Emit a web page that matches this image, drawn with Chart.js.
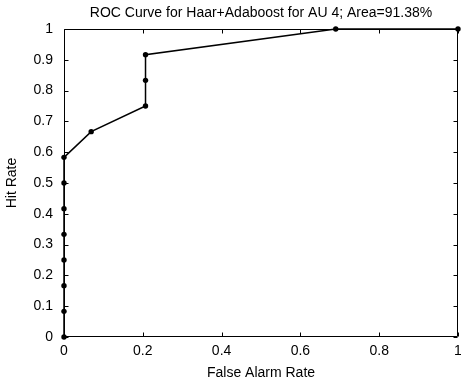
<!DOCTYPE html>
<html>
<head>
<meta charset="utf-8">
<script src="https://cdn.jsdelivr.net/npm/chart.js@4/dist/chart.umd.min.js"></script>
<style>
  html, body { margin: 0; padding: 0; background: #ffffff; }
  #wrap { width: 461px; height: 387px; }
</style>
</head>
<body>
<div id="wrap"><canvas id="roc" width="461" height="387"></canvas></div>
<script>
// ROC operating points (12 positives, 29 negatives)
const falseAlarmRate = [0, 0, 0, 0, 0, 0, 0, 0, 0.0690, 0.2069, 0.2069, 0.2069, 0.6897, 1];
const hitRate = [0, 0.0833, 0.1667, 0.25, 0.3333, 0.4167, 0.5, 0.5833, 0.6667, 0.75, 0.8333, 0.9167, 1, 1];
const xTicks = [0, 0.2, 0.4, 0.6, 0.8, 1];
const yTicks = [0, 0.1, 0.2, 0.3, 0.4, 0.5, 0.6, 0.7, 0.8, 0.9, 1];

const chartTitle = 'ROC Curve for Haar+Adaboost for AU 4; Area=91.38%';
const xTitle = 'False Alarm Rate';
const yTitle = 'Hit Rate';

const FONT = '"Liberation Sans", Arial, Helvetica, sans-serif';

const points = falseAlarmRate.map((x, i) => ({ x: x, y: hitRate[i] }));

// Plain tick text: 0, 0.1, ..., 1
const fmt = v => String(+Number(v).toFixed(4));

// Box around the axes with inward tick marks on all four sides
const boxTicks = {
  id: 'boxTicks',
  beforeDatasetsDraw(chart) {
    const { ctx, chartArea: a, scales } = chart;
    const L = Math.round(a.left) + 0.5, R = Math.round(a.right) - 0.5;
    const T = Math.round(a.top) + 0.5, B = Math.round(a.bottom) - 0.5;
    const len = 4;
    ctx.save();
    ctx.strokeStyle = '#000';
    ctx.lineWidth = 1;
    ctx.beginPath();
    ctx.rect(L, T, R - L, B - T);
    xTicks.forEach(v => {
      const px = Math.round(scales.x.getPixelForValue(v)) + 0.5;
      ctx.moveTo(px, B); ctx.lineTo(px, B - len);
      ctx.moveTo(px, T); ctx.lineTo(px, T + len);
    });
    yTicks.forEach(v => {
      const py = Math.round(scales.y.getPixelForValue(v)) + 0.5;
      ctx.moveTo(L, py); ctx.lineTo(L + len, py);
      ctx.moveTo(R, py); ctx.lineTo(R - len, py);
    });
    ctx.stroke();
    ctx.restore();
  }
};

new Chart(document.getElementById('roc'), {
  type: 'scatter',
  data: {
    datasets: [{
      data: points,
      showLine: true,
      borderColor: '#000',
      borderWidth: 1.5,
      pointRadius: 2.7,
      pointBackgroundColor: '#000',
      pointBorderColor: '#000',
      pointBorderWidth: 0,
      pointHoverRadius: 2.7,
      clip: false
    }]
  },
  options: {
    responsive: false,
    animation: false,
    devicePixelRatio: 1,
    layout: { padding: { left: 0, right: 3, top: 0, bottom: 0 } },
    plugins: {
      legend: { display: false },
      tooltip: { enabled: false },
      title: { display: false }
    },
    scales: {
      x: {
        type: 'linear',
        position: 'bottom',
        min: 0, max: 1,
        afterBuildTicks(scale) { scale.ticks = xTicks.map(v => ({ value: v })); },
        afterFit(scale) { scale.height = 50; scale.paddingLeft = 0; scale.paddingRight = 0; },
        ticks: {
          color: '#000',
          padding: 5.6,
          maxRotation: 0,
          font: { family: FONT, size: 14 },
          callback: fmt
        },
        grid: { display: false, drawTicks: false },
        border: { display: false },
        title: {
          display: true,
          text: xTitle,
          color: '#000',
          font: { family: FONT, size: 14 },
          padding: { top: 0, bottom: 5.6 }
        }
      },
      // top axis carries the chart title, centred over the plot area
      xTop: {
        type: 'linear',
        position: 'top',
        min: 0, max: 1,
        afterFit(scale) { scale.height = 29; scale.paddingLeft = 0; scale.paddingRight = 0; },
        ticks: { display: false },
        grid: { display: false, drawTicks: false },
        border: { display: false },
        title: {
          display: true,
          text: chartTitle,
          color: '#000',
          font: { family: FONT, size: 14 },
          padding: { top: 4.6, bottom: 0 }
        }
      },
      y: {
        type: 'linear',
        min: 0, max: 1,
        afterBuildTicks(scale) { scale.ticks = yTicks.map(v => ({ value: v })); },
        afterFit(scale) { scale.width = 64; scale.paddingTop = 0; scale.paddingBottom = 0; },
        ticks: {
          color: '#000',
          padding: 11,
          font: { family: FONT, size: 14 },
          callback: fmt
        },
        grid: { display: false, drawTicks: false },
        border: { display: false },
        title: {
          display: true,
          text: yTitle,
          color: '#000',
          font: { family: FONT, size: 14 },
          padding: { top: 3.6, bottom: 0 }
        }
      }
    }
  },
  plugins: [boxTicks]
});
</script>
</body>
</html>
